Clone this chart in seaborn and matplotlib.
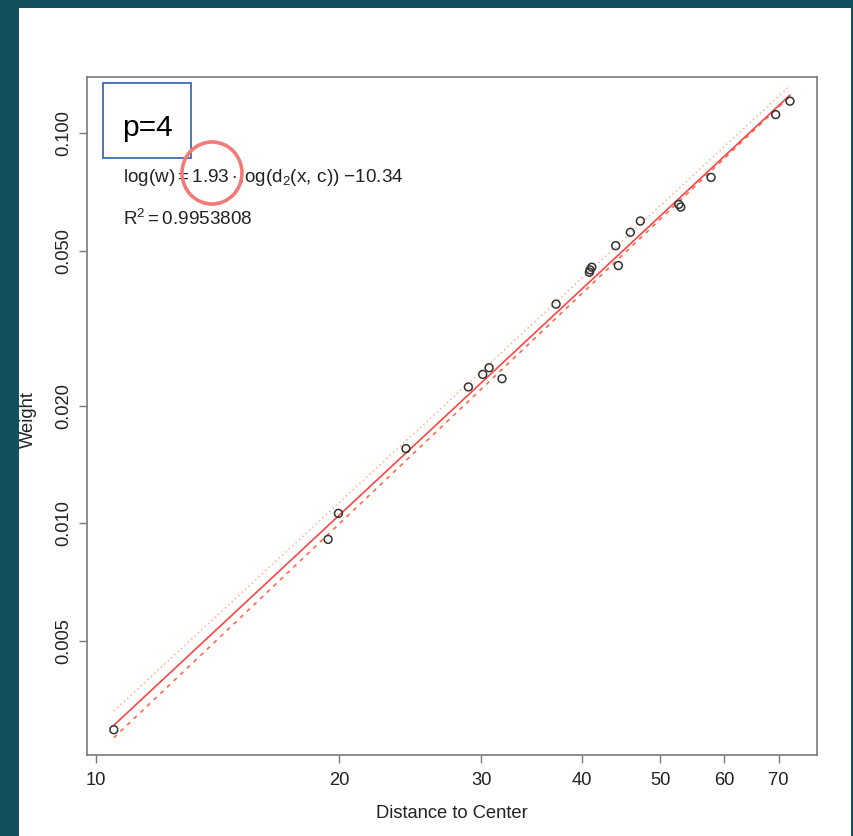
import numpy as np
import pandas as pd
import matplotlib
matplotlib.use("Agg")
import matplotlib.pyplot as plt
import matplotlib.patches as mpatches
import seaborn as sns

# =========================
# Data
# =========================

distance = [10.53, 19.39, 19.97, 24.21, 28.92, 30.13, 30.68, 31.83, 37.13,
            40.83, 40.91, 41.11, 44.01, 44.34, 45.88, 47.21, 52.68, 52.97,
            57.75, 69.42, 72.31]
weight = [0.00296, 0.00910, 0.01061, 0.01555, 0.02237, 0.02409, 0.02506,
          0.02349, 0.03647, 0.04402, 0.04463, 0.04535, 0.05149, 0.04578,
          0.05572, 0.05956, 0.06571, 0.06467, 0.07703, 0.1116, 0.1208]

# fitted lines: log(w) = slope * log(d) + intercept (natural log)
fit_slope, fit_intercept = 1.93, -10.34
low_slope, low_intercept = 1.965, -10.496
up_slope, up_intercept = 1.915, -10.221

x_ticks = [10, 20, 30, 40, 50, 60, 70]
y_ticks = [0.005, 0.010, 0.020, 0.050, 0.100]
y_tick_labels = ["0.005", "0.010", "0.020", "0.050", "0.100"]

eq_text = r"$\mathrm{log(w)} = \mathrm{1.93} \cdot \mathrm{log(d_2(x,\,c))}\ \mathrm{{-}10.34}$"
r2_text = r"$\mathrm{R^2} = \mathrm{0.9953808}$"

# =========================
# Style
# =========================

sns.set_style("white")
plt.rcParams["font.family"] = ["Liberation Sans", "DejaVu Sans"]
plt.rcParams["mathtext.fontset"] = "custom"
plt.rcParams["mathtext.rm"] = "Liberation Sans"
plt.rcParams["mathtext.it"] = "Liberation Sans"

W, H = 854, 836
teal = "#13505f"
gray = "#7a7a7a"
txt = "#222222"

fig = plt.figure(figsize=(W / 100, H / 100), dpi=100)
fig.patch.set_facecolor(teal)

# white slide area
fig.patches.append(mpatches.Rectangle((19 / W, 0), (851 - 19) / W, (836 - 8) / H,
                                      transform=fig.transFigure, facecolor="white",
                                      edgecolor="none", zorder=-5))

ax = fig.add_axes([87 / W, (H - 755) / H, (817 - 87) / W, (755 - 77) / H])
ax.set_facecolor("white")
ax.set_zorder(1)

# =========================
# Plot
# =========================

df = pd.DataFrame({"distance": distance, "weight": weight})

xs = np.array([min(distance), max(distance)])
lines = [
    (up_slope, up_intercept, "#ffb08f", (0, (1, 2)), 1.1),
    (low_slope, low_intercept, "#ff6a4d", (0, (2.5, 3)), 1.2),
    (fit_slope, fit_intercept, "#ff4444", "-", 1.2),
]
for slope, icpt, col, ls, lw in lines:
    ys = np.exp(icpt) * xs ** slope
    ax.plot(xs, ys, color=col, linestyle=ls, linewidth=lw, zorder=2)

sns.scatterplot(x="distance", y="weight", data=df, ax=ax, marker="o", s=32,
                facecolors="none", edgecolor="#333333", linewidth=1.1, zorder=3)

ax.set_xscale("log")
ax.set_yscale("log")
ax.set_xlim(9.755, 78.1)
ax.set_ylim(0.00255, 0.1393)

ax.set_xticks(x_ticks)
ax.set_xticklabels([str(t) for t in x_ticks])
ax.set_yticks(y_ticks)
ax.set_yticklabels(y_tick_labels, rotation=90, va="center")
ax.minorticks_off()

ax.tick_params(axis="both", which="major", direction="out", length=6, width=1,
               color=gray, labelsize=13.2, labelcolor=txt)
ax.tick_params(axis="x", pad=6)
ax.tick_params(axis="y", pad=4.5)
ax.xaxis.set_ticks_position("bottom")
ax.yaxis.set_ticks_position("left")

for sp in ax.spines.values():
    sp.set_visible(True)
    sp.set_color(gray)
    sp.set_linewidth(1.2)

ax.set_xlabel("")
ax.set_ylabel("")

fig.text(452 / W, 1 - 813 / H, "Distance to Center", ha="center", va="center",
         fontsize=13.2, color=txt)
fig.text(28 / W, 1 - 420 / H, "Weight", ha="center", va="center", rotation=90,
         fontsize=13.2, color=txt)

# equation and R^2
fig.text(123 / W, 1 - 177 / H, eq_text, ha="left", va="center", fontsize=13.6,
         color=txt, zorder=4)
fig.text(123 / W, 1 - 219 / H, r2_text, ha="left", va="center", fontsize=13.6,
         color=txt, zorder=4)

# p=4 box
fig.patches.append(mpatches.Rectangle((103 / W, 1 - 158 / H), (191 - 103) / W, (158 - 83) / H,
                                      transform=fig.transFigure, facecolor="white",
                                      edgecolor="#3d6bb3", linewidth=1.3, zorder=5))
fig.text(147 / W, 1 - 128 / H, "p=4", ha="center", va="center", fontsize=21.5,
         color="black", zorder=6)

# highlight circle around slope
fig.patches.append(mpatches.Ellipse((212 / W, 1 - 173 / H), 60 / W, 62 / H,
                                    transform=fig.transFigure, facecolor="none",
                                    edgecolor="#f47a7a", linewidth=2.6, zorder=7))

fig.savefig("out.png", dpi=100, facecolor=fig.get_facecolor())
